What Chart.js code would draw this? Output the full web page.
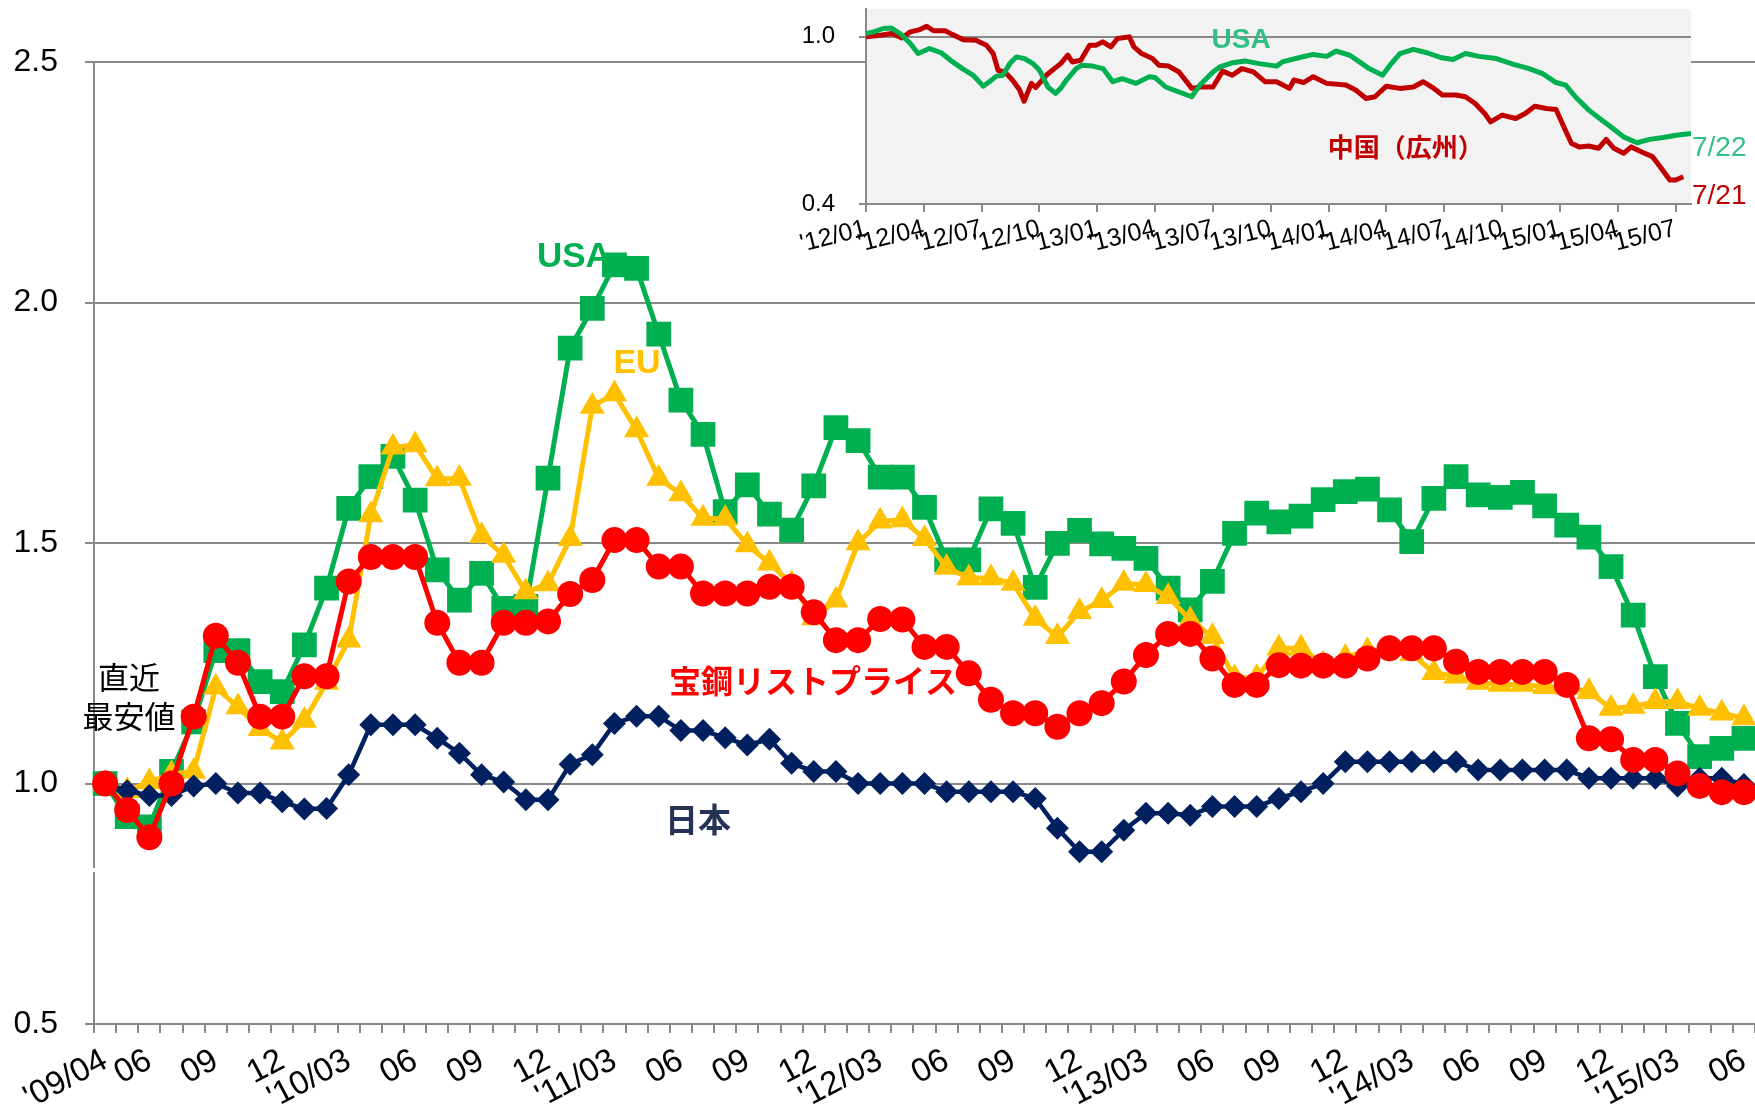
<!DOCTYPE html>
<html><head><meta charset="utf-8">
<script src="https://cdn.jsdelivr.net/npm/chart.js@4.4.0/dist/chart.umd.min.js"></script>
<style>
html,body{margin:0;padding:0;background:#fff;}
#wrap{position:relative;width:1755px;height:1108px;overflow:hidden;background:#fff;}
#main{position:absolute;left:0;top:0;}
#inset{position:absolute;left:760px;top:0;}
</style></head><body>
<div id="wrap">
<canvas id="main" width="1755" height="1108"></canvas>
<canvas id="inset" width="995" height="262"></canvas>
</div>
<script>
// ---------- main chart data ----------
const categories = [
 "2009/04","2009/05","2009/06","2009/07","2009/08","2009/09","2009/10","2009/11","2009/12",
 "2010/01","2010/02","2010/03","2010/04","2010/05","2010/06","2010/07","2010/08","2010/09","2010/10","2010/11","2010/12",
 "2011/01","2011/02","2011/03","2011/04","2011/05","2011/06","2011/07","2011/08","2011/09","2011/10","2011/11","2011/12",
 "2012/01","2012/02","2012/03","2012/04","2012/05","2012/06","2012/07","2012/08","2012/09","2012/10","2012/11","2012/12",
 "2013/01","2013/02","2013/03","2013/04","2013/05","2013/06","2013/07","2013/08","2013/09","2013/10","2013/11","2013/12",
 "2014/01","2014/02","2014/03","2014/04","2014/05","2014/06","2014/07","2014/08","2014/09","2014/10","2014/11","2014/12",
 "2015/01","2015/02","2015/03","2015/04","2015/05","2015/06"
];
const tickLabels = [
 "'09/04","","06","","","09","","","12",
 "","","'10/03","","","06","","","09","","","12",
 "","","'11/03","","","06","","","09","","","12",
 "","","'12/03","","","06","","","09","","","12",
 "","","'13/03","","","06","","","09","","","12",
 "","","'14/03","","","06","","","09","","","12",
 "","","'15/03","","","06"
];
const usa = [
 1.000,0.931,0.910,1.025,1.128,1.276,1.276,1.212,1.191,1.288,
 1.406,1.572,1.638,1.680,1.589,1.444,1.381,1.437,1.364,1.368,
 1.635,1.905,1.988,2.078,2.071,1.934,1.797,1.726,1.565,1.621,
 1.560,1.527,1.619,1.740,1.713,1.637,1.637,1.574,1.465,1.465,
 1.571,1.541,1.408,1.499,1.526,1.498,1.489,1.468,1.406,1.361,
 1.420,1.520,1.562,1.544,1.556,1.590,1.607,1.612,1.569,1.503,
 1.593,1.638,1.600,1.595,1.605,1.577,1.537,1.512,1.451,1.350,
 1.222,1.125,1.056,1.073,1.094
];
const eu = [
 1.000,0.985,1.003,1.020,1.025,1.200,1.159,1.114,1.086,1.131,
 1.210,1.298,1.558,1.699,1.704,1.633,1.634,1.515,1.474,1.398,
 1.415,1.509,1.784,1.810,1.735,1.634,1.602,1.551,1.551,1.496,
 1.458,1.415,1.344,1.381,1.500,1.545,1.548,1.509,1.449,1.427,
 1.427,1.416,1.343,1.305,1.357,1.380,1.416,1.413,1.388,1.340,
 1.305,1.220,1.220,1.281,1.281,1.248,1.262,1.276,1.280,1.270,
 1.230,1.223,1.210,1.206,1.206,1.201,1.200,1.191,1.156,1.160,
 1.170,1.170,1.156,1.146,1.136
];
const baosteel = [
 1.000,0.945,0.888,1.000,1.139,1.307,1.251,1.139,1.139,1.223,
 1.223,1.420,1.471,1.471,1.471,1.334,1.251,1.251,1.334,1.334,
 1.337,1.394,1.423,1.506,1.506,1.451,1.451,1.395,1.395,1.395,
 1.409,1.409,1.356,1.298,1.298,1.342,1.341,1.284,1.284,1.229,
 1.174,1.146,1.146,1.118,1.146,1.167,1.212,1.267,1.311,1.311,
 1.260,1.205,1.205,1.246,1.245,1.245,1.245,1.260,1.281,1.281,
 1.281,1.253,1.232,1.232,1.232,1.232,1.205,1.094,1.092,1.049,
 1.049,1.021,0.995,0.982,0.982
];
const japan = [
 1.000,0.985,0.975,0.975,0.995,1.000,0.980,0.980,0.962,0.947,
 0.948,1.018,1.122,1.122,1.122,1.094,1.063,1.018,1.003,0.966,
 0.966,1.040,1.060,1.125,1.140,1.140,1.110,1.110,1.095,1.080,
 1.092,1.042,1.025,1.025,1.000,1.000,1.000,1.000,0.983,0.983,
 0.983,0.983,0.969,0.907,0.858,0.858,0.903,0.938,0.938,0.934,
 0.952,0.952,0.952,0.969,0.983,1.000,1.045,1.045,1.045,1.045,
 1.045,1.045,1.028,1.028,1.028,1.028,1.028,1.011,1.011,1.011,
 1.011,0.995,1.011,1.011,0.998
];
const yTicks = [0.5, 1.0, 1.5, 2.0, 2.5];

// ---------- inset chart data (x = months since 2012/01) ----------
const insetTickMonths = [0,3,6,9,12,15,18,21,24,27,30,33,36,39,42];
const insetTickLabels = ["'12/01","'12/04","'12/07","'12/10","'13/01","'13/04","'13/07","'13/10","'14/01","'14/04","'14/07","'14/10","'15/01","'15/04","'15/07"];
const insetYTicks = [0.4, 1.0];
const insetUsaX = [0,0.4,0.9,1.3,1.77,2.3,2.7,3.3,3.9,4.5,5.0,5.56,6.08,6.4,6.77,7.1,7.46,7.8,8.23,8.66,9.0,9.44,9.83,10.1,10.4,10.9,11.2,11.76,12.3,12.8,13.3,14.0,14.7,15.0,15.55,16.2,16.9,17.3,18.0,18.35,19.0,19.7,20.4,21.3,21.6,22.5,23.2,23.9,24.4,25.1,25.6,26.1,26.8,27.25,27.7,28.4,29.1,29.8,30.45,31.1,31.8,32.7,33.6,34.4,35.1,35.8,36.3,36.8,37.5,38.06,38.75,39.3,40.0,40.65,41.35,42.04,42.8];
const insetUsaY = [1.012,1.018,1.03,1.032,1.012,0.976,0.94,0.958,0.943,0.91,0.886,0.862,0.823,0.839,0.859,0.862,0.904,0.928,0.922,0.904,0.88,0.82,0.797,0.815,0.845,0.886,0.898,0.895,0.886,0.839,0.85,0.833,0.857,0.854,0.82,0.803,0.785,0.825,0.874,0.892,0.907,0.913,0.904,0.895,0.91,0.926,0.937,0.93,0.949,0.934,0.91,0.886,0.862,0.904,0.94,0.955,0.943,0.926,0.919,0.94,0.93,0.922,0.901,0.886,0.868,0.836,0.827,0.785,0.737,0.707,0.671,0.641,0.62,0.632,0.639,0.647,0.653];
const insetChinaX = [0,0.75,1.34,1.86,2.3,2.8,3.15,3.5,4.1,4.5,5.05,5.7,6.25,6.6,6.85,7.2,7.6,7.97,8.2,8.58,8.8,9.35,9.77,10.1,10.47,10.7,11.14,11.6,11.93,12.28,12.7,13.05,13.66,13.9,14.3,14.86,15.2,15.7,16.24,16.9,17.3,18.0,18.5,19.0,19.5,20.1,20.7,21.3,21.97,22.2,22.7,23.2,23.9,24.9,25.4,25.95,26.4,27.0,27.7,28.4,28.9,29.4,29.9,30.6,31.1,31.6,32.1,32.4,33.0,33.7,34.2,34.7,35.3,35.8,36.2,36.6,37.0,37.5,38.0,38.4,38.8,39.3,39.7,40.3,40.8,41.2,41.7,42.0,42.4];
const insetChinaY = [1.0,1.006,1.012,0.996,1.018,1.026,1.038,1.022,1.022,1.008,0.99,0.988,0.97,0.94,0.88,0.874,0.845,0.809,0.769,0.833,0.818,0.862,0.886,0.904,0.934,0.91,0.916,0.97,0.97,0.982,0.964,0.994,1.0,0.964,0.94,0.922,0.898,0.895,0.874,0.815,0.82,0.82,0.877,0.862,0.886,0.874,0.839,0.839,0.815,0.845,0.836,0.857,0.833,0.827,0.809,0.779,0.785,0.823,0.815,0.82,0.839,0.818,0.791,0.791,0.785,0.761,0.725,0.695,0.719,0.707,0.725,0.751,0.743,0.739,0.677,0.617,0.605,0.608,0.6,0.632,0.6,0.582,0.605,0.585,0.57,0.534,0.486,0.486,0.498];

// ---------- styles ----------
const LAT = '"Liberation Sans", Arial, sans-serif';
const JP = '"Noto Sans CJK JP", "Noto Sans", sans-serif';
const GRID = '#898989';

const mainNotes = [
  {text:'USA', x:21.17, y:2.093, color:'#00b050', font:'bold 35px ' + LAT},
  {text:'EU', x:24.02, y:1.872, color:'#ffc000', font:'bold 34px ' + LAT},
  {text:'宝鋼リストプライス', x:31.96, y:1.213, color:'#ff0000', font:'bold 32px ' + JP},
  {text:'日本', x:26.77, y:0.926, color:'#253355', font:'bold 33px ' + JP},
  {text:'直近', x:1.08, y:1.221, color:'#000000', font:'31px ' + JP},
  {text:'最安値', x:1.08, y:1.140, color:'#000000', font:'31px ' + JP}
];
const insetNotes = [
  {text:'USA', x:19.46, y:0.988, color:'#33bf84', font:'bold 28px ' + LAT, align:'center'},
  {text:'中国（広州）', x:28.0, y:0.605, color:'#c00000', font:'bold 26px ' + JP, align:'center'},
  {text:'7/22', x:42.85, y:0.600, color:'#33bf84', font:'28px ' + LAT, align:'left'},
  {text:'7/21', x:42.85, y:0.429, color:'#c00000', font:'28px ' + LAT, align:'left'}
];

function notesPlugin(id, notes) {
  return {
    id: id,
    afterDatasetsDraw(chart) {
      const ctx = chart.ctx, xs = chart.scales.x, ys = chart.scales.y;
      ctx.save();
      notes.forEach(n => {
        ctx.font = n.font;
        ctx.fillStyle = n.color;
        ctx.textAlign = n.align || 'center';
        ctx.textBaseline = 'middle';
        ctx.fillText(n.text, xs.getPixelForValue(n.x), ys.getPixelForValue(n.y));
      });
      ctx.restore();
    }
  };
}

const axisBreak = {
  id: 'axisBreak',
  afterDraw(chart) {
    const ctx = chart.ctx, ys = chart.scales.y;
    const yp = ys.getPixelForValue(0.82);
    ctx.save();
    ctx.fillStyle = '#ffffff';
    ctx.fillRect(chart.chartArea.left - 5, yp - 2, 10, 4);
    ctx.restore();
  }
};

const insetBg = {
  id: 'insetBg',
  beforeDraw(chart) {
    const a = chart.chartArea, ctx = chart.ctx;
    ctx.save();
    ctx.fillStyle = '#f2f2f2';
    ctx.fillRect(a.left, a.top, a.right - a.left, a.bottom - a.top);
    ctx.restore();
  }
};

new Chart(document.getElementById('main'), {
  type: 'line',
  data: {
    labels: categories,
    datasets: [
      {label:'宝鋼リストプライス', data: baosteel, borderColor:'#ff0000', backgroundColor:'#ff0000',
       borderWidth:5, pointStyle:'circle', pointRadius:13, pointBorderWidth:0, tension:0},
      {label:'日本', data: japan, borderColor:'#002060', backgroundColor:'#002060',
       borderWidth:4.5, pointStyle:'rectRot', pointRadius:11.5, pointBorderWidth:0, tension:0},
      {label:'EU', data: eu, borderColor:'#ffc000', backgroundColor:'#ffc000',
       borderWidth:5, pointStyle:'triangle', pointRadius:14.5, pointBorderWidth:0, tension:0},
      {label:'USA', data: usa, borderColor:'#00b050', backgroundColor:'#00b050',
       borderWidth:5, pointStyle:'rect', pointRadius:17.5, pointBorderWidth:0, tension:0}
    ]
  },
  options: {
    responsive:false, animation:false, devicePixelRatio:1,
    layout:{autoPadding:false, padding:{top:62, left:0, right:0, bottom:0}},
    plugins:{legend:{display:false}, tooltip:{enabled:false}},
    scales:{
      x:{
        type:'category', offset:true,
        grid:{offset:true, drawOnChartArea:false, drawTicks:true, tickLength:9, color:GRID, lineWidth:2},
        border:{display:true, color:GRID, width:2},
        ticks:{autoSkip:false, minRotation:28, maxRotation:28, padding:8,
               font:{family:LAT, size:33}, color:'#000',
               callback:(v, i) => tickLabels[i]},
        afterFit:(s) => { s.height = 84; s.paddingLeft = 0; s.paddingRight = 0; }
      },
      y:{
        min:0.5, max:2.5,
        afterBuildTicks:(s) => { s.ticks = yTicks.map(v => ({value:v})); },
        grid:{color:GRID, lineWidth:2, tickLength:9, drawTicks:true},
        border:{display:true, color:GRID, width:2},
        ticks:{padding:27, font:{family:LAT, size:32}, color:'#000',
               callback:(v) => Number(v).toFixed(1)},
        afterFit:(s) => { s.width = 94; s.paddingTop = 0; s.paddingBottom = 0; }
      }
    }
  },
  plugins:[notesPlugin('mainNotes', mainNotes), axisBreak]
});

new Chart(document.getElementById('inset'), {
  type: 'line',
  data: {
    datasets: [
      {label:'USA', data: insetUsaX.map((x, i) => ({x:x, y:insetUsaY[i]})),
       borderColor:'#00b050', borderWidth:5, pointRadius:0, tension:0, borderJoinStyle:'round'},
      {label:'中国（広州）', data: insetChinaX.map((x, i) => ({x:x, y:insetChinaY[i]})),
       borderColor:'#c00000', borderWidth:5, pointRadius:0, tension:0, borderJoinStyle:'round'}
    ]
  },
  options: {
    responsive:false, animation:false, devicePixelRatio:1,
    layout:{autoPadding:false, padding:{top:9, left:0, right:64, bottom:0}},
    plugins:{legend:{display:false}, tooltip:{enabled:false}},
    scales:{
      x:{
        type:'linear', min:0, max:42.8,
        afterBuildTicks:(s) => { s.ticks = insetTickMonths.map(v => ({value:v})); },
        grid:{drawOnChartArea:false, drawTicks:true, tickLength:8, color:GRID, lineWidth:2},
        border:{display:true, color:GRID, width:2},
        ticks:{autoSkip:false, minRotation:14, maxRotation:14, padding:2,
               font:{family:LAT, size:25}, color:'#000',
               callback:(v, i) => insetTickLabels[i]},
        afterFit:(s) => { s.height = 58; s.paddingLeft = 0; s.paddingRight = 0; }
      },
      y:{
        min:0.4, max:1.1,
        afterBuildTicks:(s) => { s.ticks = insetYTicks.map(v => ({value:v})); },
        grid:{color:GRID, lineWidth:2, tickLength:7, drawTicks:true},
        border:{display:true, color:GRID, width:2},
        ticks:{padding:24, font:{family:LAT, size:24}, color:'#000',
               callback:(v) => Number(v).toFixed(1)},
        afterFit:(s) => { s.width = 106; s.paddingTop = 0; s.paddingBottom = 0; }
      }
    }
  },
  plugins:[insetBg, notesPlugin('insetNotes', insetNotes)]
});
</script>
</body></html>
